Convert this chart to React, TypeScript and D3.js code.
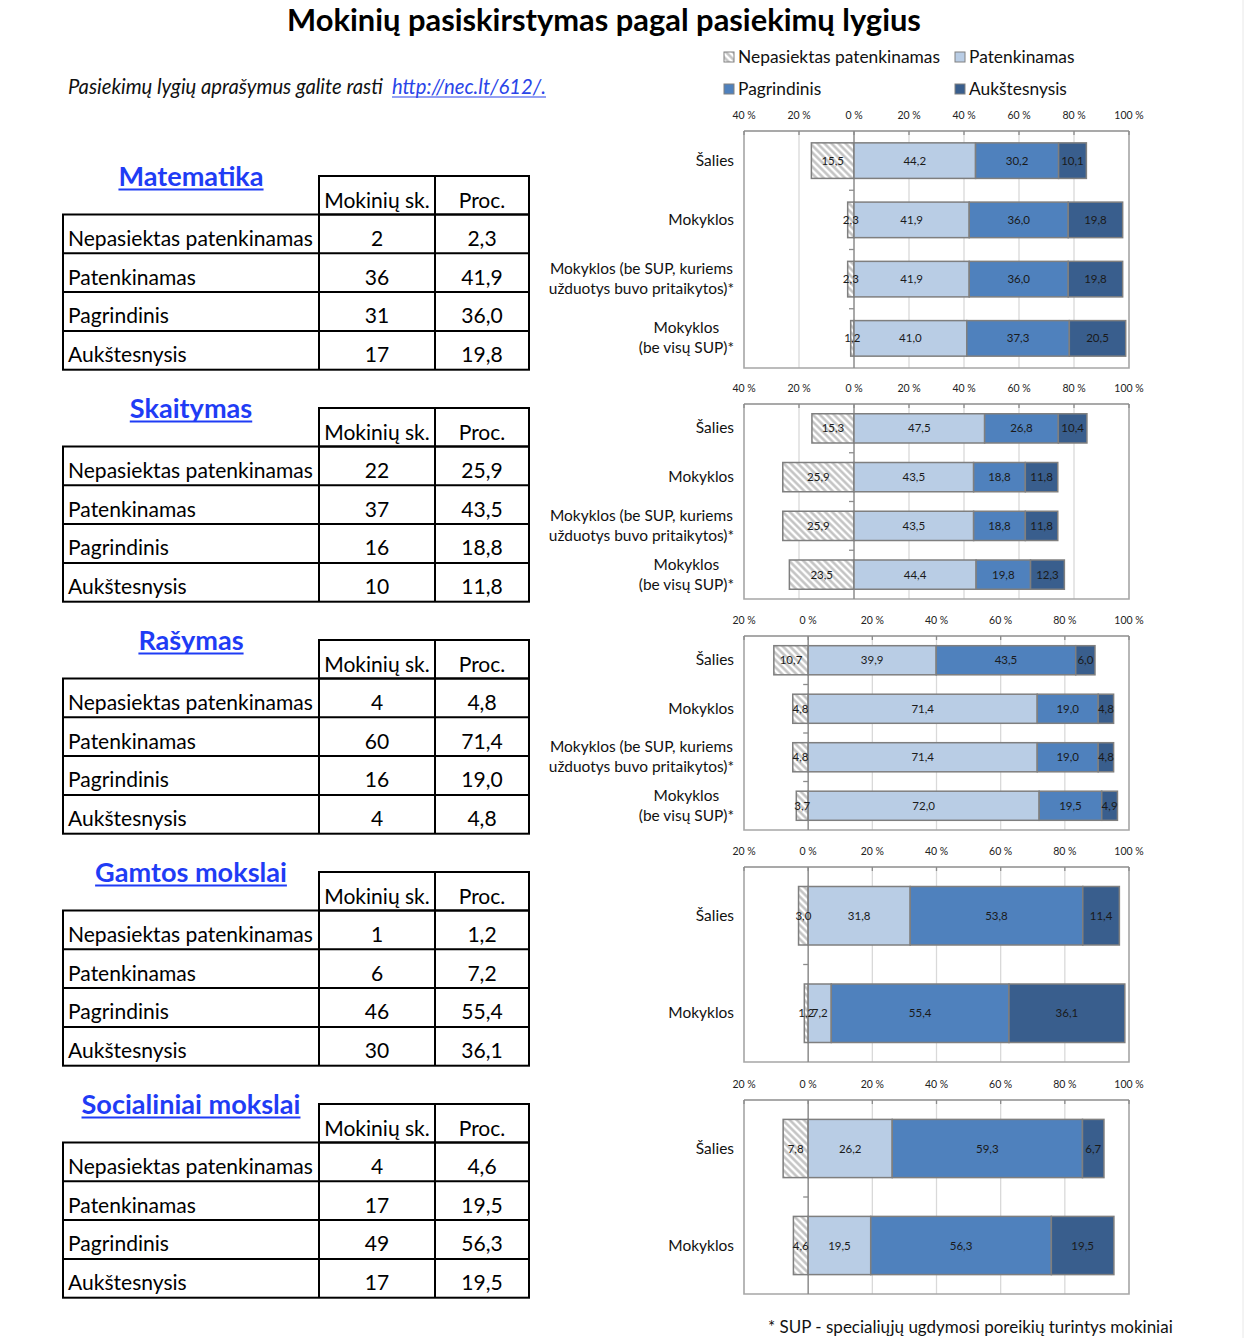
import React, { useEffect, useRef } from "react";
import * as d3 from "d3";

// ---------- DATA ----------
const chartTitle = "Mokinių pasiskirstymas pagal pasiekimų lygius";
const noteText = "Pasiekimų lygių aprašymus galite rasti";
const noteLink = "http://nec.lt/612/.";
const footnote = "* SUP - specialiųjų ugdymosi poreikių turintys mokiniai";

const levels = ["Nepasiektas patenkinamas", "Patenkinamas", "Pagrindinis", "Aukštesnysis"];
const levelColors = ["url(#hatch)", "#b9cde5", "#4f81bd", "#395e8d"];

const tableHeaders = ["Mokinių sk.", "Proc."];

const cats4 = [
  "Šalies",
  "Mokyklos",
  "Mokyklos (be SUP, kuriems\nužduotys buvo pritaikytos)*",
  "Mokyklos\n(be visų SUP)*",
];
const cats2 = ["Šalies", "Mokyklos"];

const subjects = ["Matematika", "Skaitymas", "Rašymas", "Gamtos mokslai", "Socialiniai mokslai"];

// bar values: [Nepasiektas, Patenkinamas, Pagrindinis, Aukštesnysis] per category
const matValues = [
  [15.5, 44.2, 30.2, 10.1],
  [2.3, 41.9, 36.0, 19.8],
  [2.3, 41.9, 36.0, 19.8],
  [1.2, 41.0, 37.3, 20.5],
];
const skaValues = [
  [15.3, 47.5, 26.8, 10.4],
  [25.9, 43.5, 18.8, 11.8],
  [25.9, 43.5, 18.8, 11.8],
  [23.5, 44.4, 19.8, 12.3],
];
const rasValues = [
  [10.7, 39.9, 43.5, 6.0],
  [4.8, 71.4, 19.0, 4.8],
  [4.8, 71.4, 19.0, 4.8],
  [3.7, 72.0, 19.5, 4.9],
];
const gamValues = [
  [3.0, 31.8, 53.8, 11.4],
  [1.2, 7.2, 55.4, 36.1],
];
const socValues = [
  [7.8, 26.2, 59.3, 6.7],
  [4.6, 19.5, 56.3, 19.5],
];

// table values
const matCounts = [2, 36, 31, 17];
const matPct = [2.3, 41.9, 36.0, 19.8];
const skaCounts = [22, 37, 16, 10];
const skaPct = [25.9, 43.5, 18.8, 11.8];
const rasCounts = [4, 60, 16, 4];
const rasPct = [4.8, 71.4, 19.0, 4.8];
const gamCounts = [1, 6, 46, 30];
const gamPct = [1.2, 7.2, 55.4, 36.1];
const socCounts = [4, 17, 49, 17];
const socPct = [4.6, 19.5, 56.3, 19.5];

const ticksWide = [-40, -20, 0, 20, 40, 60, 80, 100];
const ticksNarrow = [-20, 0, 20, 40, 60, 80, 100];

// ---------- LAYOUT ----------
const FONT = "Lato, 'Noto Sans', sans-serif";
const W = 1244;
const H = 1338;
const plotLeft = 744;
const plotRight = 1129;
const catRight = 734;

const sections = [
  { cats: cats4, values: matValues, counts: matCounts, pct: matPct, domain: [-40, 100], ticks: ticksWide, top: 131, bottom: 368 },
  { cats: cats4, values: skaValues, counts: skaCounts, pct: skaPct, domain: [-40, 100], ticks: ticksWide, top: 404, bottom: 599 },
  { cats: cats4, values: rasValues, counts: rasCounts, pct: rasPct, domain: [-20, 100], ticks: ticksNarrow, top: 636, bottom: 830 },
  { cats: cats2, values: gamValues, counts: gamCounts, pct: gamPct, domain: [-20, 100], ticks: ticksNarrow, top: 867, bottom: 1062 },
  { cats: cats2, values: socValues, counts: socCounts, pct: socPct, domain: [-20, 100], ticks: ticksNarrow, top: 1100, bottom: 1294 },
];

const fmt1 = (v: number) => d3.format(".1f")(v).replace(".", ",");

function measure(svg: any, text: string, size: number, weight = "normal", style = "normal") {
  const t = svg
    .append("text")
    .attr("font-family", FONT)
    .attr("font-size", size)
    .attr("font-weight", weight)
    .attr("font-style", style)
    .text(text);
  const w = (t.node() as SVGTextElement).getComputedTextLength();
  t.remove();
  return w;
}
function fitSize(svg: any, text: string, target: number, weight = "normal", style = "normal") {
  const w = measure(svg, text, 20, weight, style);
  return (20 * target) / w;
}

function draw(svgEl: SVGSVGElement) {
  const svg = d3.select(svgEl);
  svg.selectAll("*").remove();

  const defs = svg.append("defs");
  const pat = defs
    .append("pattern")
    .attr("id", "hatch")
    .attr("patternUnits", "userSpaceOnUse")
    .attr("width", 5)
    .attr("height", 5)
    .attr("patternTransform", "rotate(-45)");
  pat.append("rect").attr("width", 5).attr("height", 5).attr("fill", "#ffffff");
  pat.append("line").attr("x1", 1.5).attr("y1", 0).attr("x2", 1.5).attr("y2", 5).attr("stroke", "#bfbfbf").attr("stroke-width", 2.4);

  svg.append("rect").attr("width", W).attr("height", H).attr("fill", "#ffffff");
  svg.append("line").attr("x1", W - 1).attr("x2", W - 1).attr("y1", 0).attr("y2", H).attr("stroke", "#e8e8e8").attr("stroke-width", 1);

  // sizes
  const titleSize = fitSize(svg, chartTitle, 634, "bold");
  const noteSize = fitSize(svg, noteText, 315, "normal", "italic");
  const legendSize = fitSize(svg, levels[0], 202);
  const subjSize = fitSize(svg, "Socialiniai mokslai", 219, "bold");
  const tableSize = fitSize(svg, levels[0], 245);
  const catSize = fitSize(svg, "Mokyklos (be SUP, kuriems", 183);
  const footSize = fitSize(svg, footnote, 405);

  // title
  svg.append("text").attr("x", 604).attr("y", 31).attr("text-anchor", "middle")
    .attr("font-family", FONT).attr("font-weight", "bold").attr("font-size", titleSize).attr("fill", "#000")
    .text(chartTitle);

  // note + link
  svg.append("text").attr("x", 68).attr("y", 94).attr("font-family", FONT).attr("font-style", "italic")
    .attr("font-size", noteSize).attr("fill", "#111").text(noteText);
  const linkW = measure(svg, noteLink, noteSize, "normal", "italic");
  svg.append("text").attr("x", 392).attr("y", 94).attr("font-family", FONT).attr("font-style", "italic")
    .attr("font-size", noteSize).attr("fill", "#2a45e8").text(noteLink);
  svg.append("line").attr("x1", 392).attr("x2", 392 + linkW).attr("y1", 97).attr("y2", 97).attr("stroke", "#2a45e8").attr("stroke-width", 1.2);

  // legend
  const legPos = [
    [724, 57], [955, 57], [724, 89], [955, 89],
  ];
  levels.forEach((lv, i) => {
    const [lx, ly] = legPos[i];
    svg.append("rect").attr("x", lx).attr("y", ly - 5).attr("width", 10).attr("height", 10)
      .attr("fill", levelColors[i]).attr("stroke", "#808080").attr("stroke-width", 1);
    svg.append("text").attr("x", lx + 14).attr("y", ly + 5.5).attr("font-family", FONT)
      .attr("font-size", legendSize).attr("fill", "#111").text(lv);
  });

  // footnote
  svg.append("text").attr("x", 768).attr("y", 1333).attr("font-family", FONT)
    .attr("font-size", footSize).attr("fill", "#111").text(footnote);

  sections.forEach((sec, si) => {
    const sTop = 176 + si * 232;
    // ---------- subject title ----------
    const subjW = measure(svg, subjects[si], subjSize, "bold");
    svg.append("text").attr("x", 191).attr("y", sTop + 10).attr("text-anchor", "middle")
      .attr("font-family", FONT).attr("font-weight", "bold").attr("font-size", subjSize).attr("fill", "#1f3cf5")
      .text(subjects[si]);
    svg.append("line").attr("x1", 191 - subjW / 2).attr("x2", 191 + subjW / 2).attr("y1", sTop + 13.5).attr("y2", sTop + 13.5)
      .attr("stroke", "#1f3cf5").attr("stroke-width", 2);

    // ---------- table ----------
    const tl = 63, c1 = 319, c2 = 435, tr = 529;
    const hTop = sTop, hBot = sTop + 38.5, rowH = 38.8;
    const tg = svg.append("g").attr("stroke", "#000").attr("stroke-width", 2).attr("fill", "none");
    tg.append("rect").attr("x", c1).attr("y", hTop).attr("width", tr - c1).attr("height", hBot - hTop);
    tg.append("line").attr("x1", c2).attr("x2", c2).attr("y1", hTop).attr("y2", hBot);
    const bBot = hBot + rowH * 4;
    tg.append("rect").attr("x", tl).attr("y", hBot).attr("width", tr - tl).attr("height", bBot - hBot);
    [c1, c2].forEach((cx) => tg.append("line").attr("x1", cx).attr("x2", cx).attr("y1", hBot).attr("y2", bBot));
    [1, 2, 3].forEach((k) => tg.append("line").attr("x1", tl).attr("x2", tr).attr("y1", hBot + k * rowH).attr("y2", hBot + k * rowH));

    const tt = svg.append("g").attr("font-family", FONT).attr("font-size", tableSize).attr("fill", "#000");
    tt.append("text").attr("x", (c1 + c2) / 2).attr("y", hBot - 7).attr("text-anchor", "middle").text(tableHeaders[0]);
    tt.append("text").attr("x", (c2 + tr) / 2).attr("y", hBot - 7).attr("text-anchor", "middle").text(tableHeaders[1]);
    levels.forEach((lv, k) => {
      const yb = hBot + (k + 1) * rowH - 7.5;
      tt.append("text").attr("x", 68).attr("y", yb).text(lv);
      tt.append("text").attr("x", (c1 + c2) / 2).attr("y", yb).attr("text-anchor", "middle").text(String(sec.counts[k]));
      tt.append("text").attr("x", (c2 + tr) / 2).attr("y", yb).attr("text-anchor", "middle").text(fmt1(sec.pct[k]));
    });

    // ---------- bar chart ----------
    const x = d3.scaleLinear().domain(sec.domain).range([plotLeft, plotRight]);
    const y = d3.scaleBand<string>().domain(sec.cats).range([sec.top, sec.bottom]).paddingInner(0.4).paddingOuter(0.2);
    const g = svg.append("g");

    sec.ticks.forEach((t) => {
      if (t === sec.domain[0] || t === sec.domain[1] || t === 0) return;
      g.append("line").attr("x1", x(t)).attr("x2", x(t)).attr("y1", sec.top).attr("y2", sec.bottom)
        .attr("stroke", "#d9d9d9").attr("stroke-width", 1.3);
    });
    g.append("path")
      .attr("d", `M${plotLeft},${sec.top}V${sec.bottom}H${plotRight}V${sec.top}`)
      .attr("fill", "none").attr("stroke", "#a6a6a6").attr("stroke-width", 1.6);
    g.append("line").attr("x1", plotLeft).attr("x2", plotRight).attr("y1", sec.top).attr("y2", sec.top)
      .attr("stroke", "#8c8c8c").attr("stroke-width", 1.6);
    sec.ticks.forEach((t) => {
      g.append("line").attr("x1", x(t)).attr("x2", x(t)).attr("y1", sec.top).attr("y2", sec.top + 4)
        .attr("stroke", "#8c8c8c").attr("stroke-width", 1.3);
      g.append("text").attr("x", x(t)).attr("y", sec.top - 12).attr("text-anchor", "middle")
        .attr("font-family", FONT).attr("font-size", 10.5).attr("fill", "#222")
        .text(`${Math.abs(t)}\u202F%`);
    });
    g.append("line").attr("x1", x(0)).attr("x2", x(0)).attr("y1", sec.top).attr("y2", sec.bottom)
      .attr("stroke", "#8c8c8c").attr("stroke-width", 1.5);
    const step = y.step();
    sec.cats.forEach((c, k) => {
      if (k === 0) return;
      const yy = sec.top + k * step;
      g.append("line").attr("x1", x(0) - 5).attr("x2", x(0)).attr("y1", yy).attr("y2", yy)
        .attr("stroke", "#8c8c8c").attr("stroke-width", 1.3);
    });

    sec.values.forEach((vals, k) => {
      const cat = sec.cats[k];
      const by = y(cat) as number;
      const bh = y.bandwidth();
      const segs: [number, number][] = [];
      segs.push([-vals[0], 0]);
      let acc = 0;
      for (let j = 1; j < 4; j++) {
        segs.push([acc, acc + vals[j]]);
        acc += vals[j];
      }
      segs.forEach(([a, b], j) => {
        g.append("rect").attr("x", x(a)).attr("y", by).attr("width", x(b) - x(a)).attr("height", bh)
          .attr("fill", levelColors[j]).attr("stroke", "#7f7f7f").attr("stroke-width", 1.5);
      });
      segs.forEach(([a, b], j) => {
        g.append("text").attr("x", (x(a) + x(b)) / 2).attr("y", by + bh / 2 + 4).attr("text-anchor", "middle")
          .attr("font-family", FONT).attr("font-size", 11.5).attr("fill", "#1a1a1a")
          .text(fmt1(vals[j]));
      });

      const lines = cat.split("\n");
      const widths = lines.map((l) => measure(svg, l, catSize));
      const maxW = Math.max(...widths);
      const cx = catRight - maxW / 2;
      const cy = by + bh / 2;
      const lh = 20;
      lines.forEach((l, li) => {
        const yy = cy + (li - (lines.length - 1) / 2) * lh + 5;
        g.append("text").attr("x", cx).attr("y", yy).attr("text-anchor", "middle")
          .attr("font-family", FONT).attr("font-size", catSize).attr("fill", "#111").text(l);
      });
    });
  });
}

export default function App() {
  const ref = useRef<SVGSVGElement>(null);
  useEffect(() => {
    if (ref.current) draw(ref.current);
  }, []);
  return (
    <svg
      ref={ref}
      width={W}
      height={H}
      style={{ position: "absolute", left: 0, top: 0, display: "block", background: "#fff" }}
    />
  );
}
